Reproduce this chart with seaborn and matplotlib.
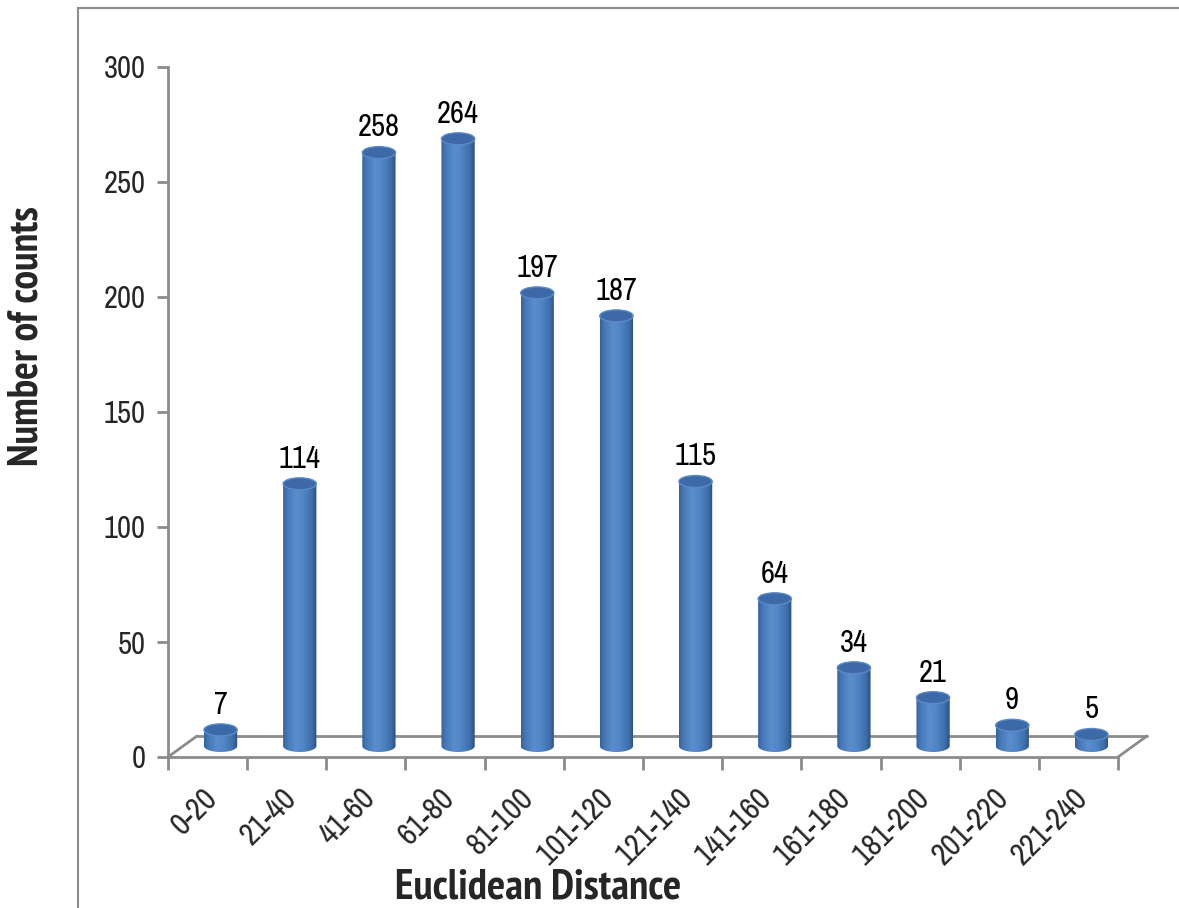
import numpy as np
import pandas as pd
import matplotlib
matplotlib.use("Agg")
import matplotlib.pyplot as plt
import seaborn as sns
from matplotlib.patches import Ellipse, PathPatch, Rectangle
from matplotlib.path import Path
from matplotlib.colors import LinearSegmentedColormap
from matplotlib.lines import Line2D
from matplotlib.transforms import ScaledTranslation
from matplotlib import font_manager

# ---------------- data ----------------
categories = ["0-20", "21-40", "41-60", "61-80", "81-100", "101-120",
              "121-140", "141-160", "161-180", "181-200", "201-220", "221-240"]
counts = [7, 114, 258, 264, 197, 187, 115, 64, 34, 21, 9, 5]
y_ticks = [0, 50, 100, 150, 200, 250, 300]
x_label = "Euclidean Distance"
y_label = "Number of counts"

# ---------------- style ----------------
sns.set_theme(style="white")
ttf = font_manager.fontManager.ttflist
installed = {f.name for f in ttf}
bold_ok = {f.name for f in ttf if (f.weight if isinstance(f.weight, int) else 400) >= 600
           or str(f.weight) in ("bold", "heavy", "black", "semibold", "demibold")}
preferred = ["Liberation Sans Narrow", "Arial Narrow", "Archivo Narrow",
             "PT Sans Narrow", "Roboto Condensed", "IBM Plex Sans Condensed",
             "Open Sans Condensed", "Liberation Sans", "DejaVu Sans"]
fams = [f for f in preferred if f in installed] or ["DejaVu Sans"]
bold_fams = [f for f in preferred if f in bold_ok] or ["DejaVu Sans"]
plt.rcParams["font.family"] = fams

W, H = 1179, 908
fig = plt.figure(figsize=(W / 100, H / 100), dpi=100)
ax_l, ax_r, ax_t, ax_b = 168, 1118, 67, 757
ax = fig.add_axes([ax_l / W, 1 - ax_b / H, (ax_r - ax_l) / W, (ax_b - ax_t) / H])

df = pd.DataFrame({"cat": categories, "count": counts})
sns.barplot(data=df, x="cat", y="count", ax=ax, width=0.42, color="#4F81BD",
            saturation=1, order=categories)

n = len(categories)
ax.set_xlim(-0.5, n - 0.5)
ax.set_ylim(0, 300)

px_x = (ax_r - ax_l) / n               # pixels per category
px_y = (ax_b - ax_t) / 300.0           # pixels per unit
floor_dx, floor_dy = 29 / px_x, 21 / px_y
bar_dx, bar_dy = 13 / px_x, 11 / px_y
cap_h = 12 / px_y

cyl = LinearSegmentedColormap.from_list(
    "cyl", [(0.0, "#34609A"), (0.12, "#4677B5"), (0.38, "#5A8DCE"),
            (0.6, "#5086C6"), (0.85, "#3F6EAA"), (1.0, "#2B4F82")])
grad = np.linspace(0, 1, 256).reshape(1, -1)

for p in list(ax.patches):
    x0 = p.get_x() + bar_dx
    w = p.get_width()
    h = p.get_height()
    y0 = bar_dy
    cx = x0 + w / 2
    p.set_visible(False)
    th = np.linspace(np.pi, 2 * np.pi, 60)
    xs = list(cx + (w / 2) * np.cos(th)) + [x0 + w, x0]
    ys = list(y0 + (cap_h / 2) * np.sin(th)) + [y0 + h, y0 + h]
    verts = list(zip(xs, ys)) + [(xs[0], ys[0])]
    codes = [Path.MOVETO] + [Path.LINETO] * (len(verts) - 2) + [Path.CLOSEPOLY]
    body = PathPatch(Path(verts, codes), facecolor="none", edgecolor="none",
                     transform=ax.transData)
    ax.add_patch(body)
    im = ax.imshow(grad, cmap=cyl, aspect="auto", interpolation="bilinear",
                   extent=[x0, x0 + w, y0 - cap_h, y0 + h], zorder=3)
    im.set_clip_path(body)
    cap = Ellipse((cx, y0 + h), w, cap_h, facecolor="#3D6AA6",
                  edgecolor="#5A8ACA", linewidth=1.0, zorder=4)
    ax.add_patch(cap)
    ax.annotate(f"{int(round(h))}", (cx, y0 + h), xytext=(0, 8),
                textcoords="offset points", ha="center", va="bottom",
                fontsize=22, color="black", zorder=5)

ax.set_xlim(-0.5, n - 0.5)
ax.set_ylim(0, 300)

# floor (3-D parallelogram)
gray = "#8C8C8C"
ax.add_line(Line2D([-0.5 + floor_dx, n - 0.5 + floor_dx], [floor_dy, floor_dy],
                   color=gray, lw=2, clip_on=False, zorder=1))
ax.add_line(Line2D([-0.5, -0.5 + floor_dx], [0, floor_dy],
                   color=gray, lw=2, clip_on=False, zorder=1))
ax.add_line(Line2D([n - 0.5, n - 0.5 + floor_dx], [0, floor_dy],
                   color=gray, lw=2, clip_on=False, zorder=1))

for s in ["top", "right"]:
    ax.spines[s].set_visible(False)
for s in ["left", "bottom"]:
    ax.spines[s].set_color(gray)
    ax.spines[s].set_linewidth(2)
ax.set_facecolor("none")

ax.set_yticks(y_ticks)
ax.set_yticklabels([str(t) for t in y_ticks], fontsize=22)
ax.tick_params(axis="y", length=8, width=2, color=gray, pad=8, left=True)

ax.set_xticks(range(n))
ax.set_xticklabels(categories, rotation=45, ha="right", rotation_mode="anchor",
                   fontsize=22.5)
ax.tick_params(axis="x", which="major", length=0, pad=19)
ax.set_xticks(np.arange(-0.5, n, 1.0), minor=True)
ax.tick_params(axis="x", which="minor", length=9, width=2, color=gray, bottom=True)
for lab in ax.get_xticklabels():
    lab.set_transform(lab.get_transform() + ScaledTranslation(-0.05, 0, fig.dpi_scale_trans))

ax.set_xlabel("")
ax.set_ylabel("")
fig.text(538 / W, 1 - 888 / H, x_label, ha="center", va="center",
         fontsize=31, fontweight="bold", family=bold_fams)
fig.text(27 / W, 1 - 336 / H, y_label, ha="center", va="center", rotation=90,
         fontsize=30, fontweight="bold", family=bold_fams)

fig.add_artist(Rectangle((78 / W, -0.1), 1.2, 1 - 8 / H + 0.1,
                         transform=fig.transFigure, facecolor="none",
                         edgecolor="#8C8C8C", lw=1.5))

fig.savefig("out.png", dpi=100)
